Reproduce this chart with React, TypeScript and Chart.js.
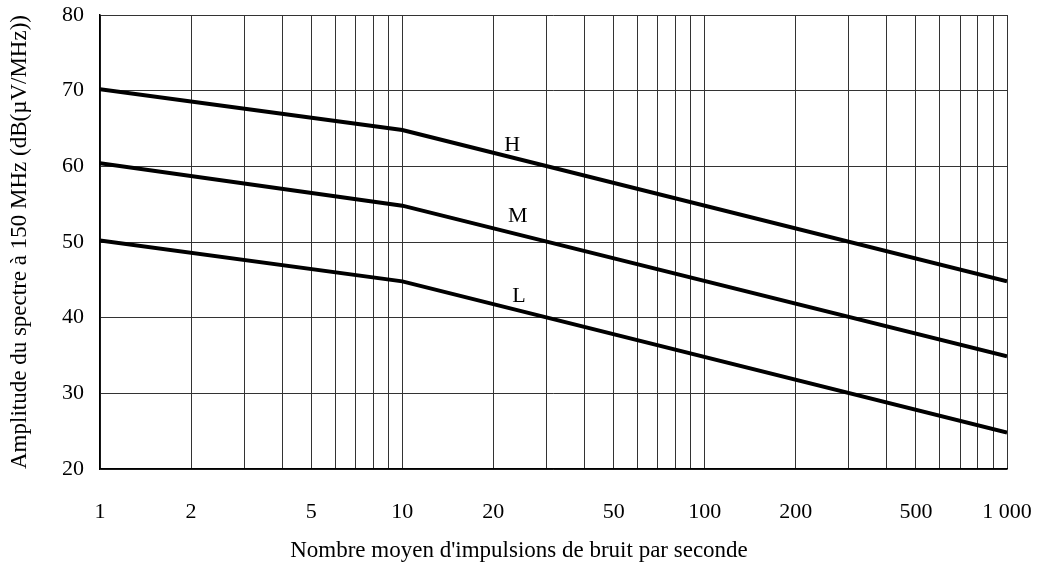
import React, { useEffect, useRef } from "react";
import { Chart, registerables } from "chart.js";

Chart.register(...registerables);

const xTicks = [1, 2, 3, 4, 5, 6, 7, 8, 9, 10, 20, 30, 40, 50, 60, 70, 80, 90, 100, 200, 300, 400, 500, 600, 700, 800, 900, 1000];
const shownXLabels: Record<number, string> = { 1: "1", 2: "2", 5: "5", 10: "10", 20: "20", 50: "50", 100: "100", 200: "200", 500: "500", 1000: "1 000" };
const xPoints = [1, 10, 1000];
const seriesH = [70.2, 64.8, 44.8];
const seriesM = [60.4, 54.8, 34.9];
const seriesL = [50.2, 44.8, 24.8];
const curveLabels = [
  { text: "H", x: 23.1, y: 62.8 },
  { text: "M", x: 24.1, y: 53.4 },
  { text: "L", x: 24.3, y: 42.9 },
];
const xTitle = "Nombre moyen d'impulsions de bruit par seconde";
const yTitle = "Amplitude du spectre à 150 MHz (dB(µV/MHz))";

const FONT = "'Liberation Serif', 'Times New Roman', serif";

export default function App() {
  const ref = useRef<HTMLCanvasElement | null>(null);
  useEffect(() => {
    if (!ref.current) return;
    const mk = (vals: number[]) => xPoints.map((x, i) => ({ x, y: vals[i] }));
    const labelPlugin = {
      id: "curveLabels",
      afterDatasetsDraw(chart: any) {
        const { ctx, scales } = chart;
        ctx.save();
        ctx.font = `22px ${FONT}`;
        ctx.fillStyle = "#000";
        ctx.textAlign = "center";
        ctx.textBaseline = "middle";
        curveLabels.forEach((l) => {
          ctx.fillText(l.text, scales.x.getPixelForValue(l.x), scales.y.getPixelForValue(l.y));
        });
        ctx.font = `23px ${FONT}`;
        ctx.fillText(xTitle, chart.width / 2, chart.height - 19);
        ctx.restore();
      },
    };
    const chart = new Chart(ref.current, {
      type: "line",
      data: {
        datasets: [
          { data: mk(seriesH), borderColor: "#000", borderWidth: 4, pointRadius: 0, tension: 0 },
          { data: mk(seriesM), borderColor: "#000", borderWidth: 4, pointRadius: 0, tension: 0 },
          { data: mk(seriesL), borderColor: "#000", borderWidth: 4, pointRadius: 0, tension: 0 },
        ],
      },
      options: {
        animation: false,
        responsive: false,
        maintainAspectRatio: false,
        layout: { padding: { top: 15, right: 31, left: 0, bottom: 0 } },
        plugins: { legend: { display: false }, tooltip: { enabled: false } },
        scales: {
          x: {
            type: "logarithmic",
            min: 1,
            max: 1000,
            afterBuildTicks: (s: any) => {
              s.ticks = xTicks.map((v) => ({ value: v }));
            },
            afterFit: (s: any) => {
              s.height = 101;
              s.paddingLeft = 0;
              s.paddingRight = 0;
            },
            ticks: {
              autoSkip: false,
              maxRotation: 0,
              padding: 30,
              color: "#000",
              font: { family: FONT, size: 22 },
              callback: (v: any) => shownXLabels[Number(v)] ?? "",
            },
            grid: { color: "#333", lineWidth: 1, drawTicks: false },
            border: { color: "#000", width: 1.5 },
            title: { display: false },
          },
          y: {
            min: 20,
            max: 80,
            afterFit: (s: any) => {
              s.width = 100;
              s.paddingTop = 0;
              s.paddingBottom = 0;
            },
            ticks: {
              stepSize: 10,
              padding: 16,
              color: "#000",
              font: { family: FONT, size: 22 },
            },
            grid: { color: "#333", lineWidth: 1, drawTicks: false },
            border: { color: "#000", width: 1.5 },
            title: { display: true, text: yTitle, color: "#000", font: { family: FONT, size: 23 }, padding: { top: 6, bottom: 0 } },
          },
        },
      },
      plugins: [labelPlugin],
    });
    return () => chart.destroy();
  }, []);
  return (
    <div style={{ position: "fixed", left: 0, top: 0, width: 1038, height: 570, background: "#fff" }}>
      <canvas ref={ref} width={1038} height={570} style={{ width: 1038, height: 570 }} />
    </div>
  );
}
